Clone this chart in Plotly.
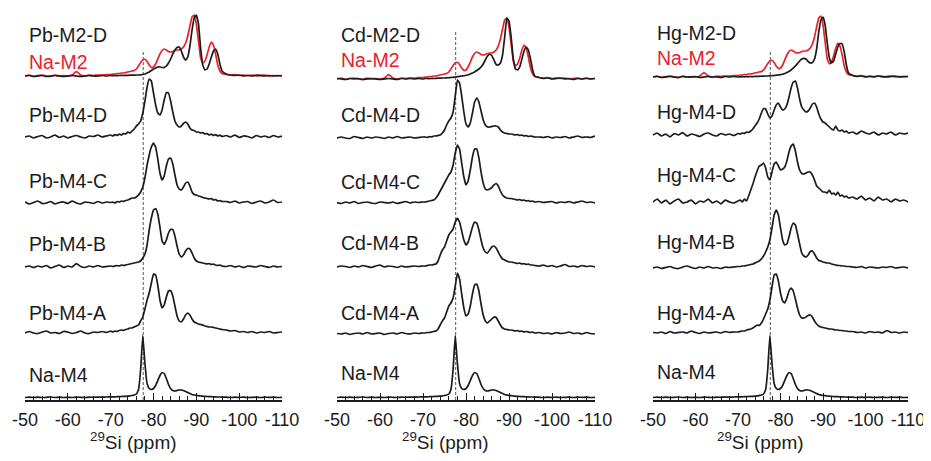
import plotly.graph_objects as go

# ---------------- data ----------------
# chemical shift grid (ppm)
PPM = [-50, -51, -52, -53, -54, -55, -56, -57, -58, -59, -60, -61, -62, -63, -64, -65, -66, -67, -68, -69, -70,
       -70.5, -71, -71.5, -72, -72.5, -73, -73.5, -74, -74.5, -75,
       -75.5, -76, -76.5, -77, -77.5, -78, -78.5, -79, -79.5, -80,
       -80.5, -81, -81.5, -82, -82.5, -83, -83.5, -84, -84.5, -85,
       -85.5, -86, -86.5, -87, -87.5, -88, -88.5, -89, -89.5, -90,
       -90.5, -91, -91.5, -92, -92.5, -93, -93.5, -94, -94.5, -95,
       -95.5, -96,
       -97, -98, -99, -100, -101, -102, -103, -104, -105, -106, -107, -108, -109, -110]

NA_M4 = [0, 0.3, 0, 0.4, 0, 0.2, 0.5, 0, 0.3, 0, 0.2, 0, 0.4, 0.2, 0, 0.3, 0.2, 0.4, 0.3, 0.5, 0.6,
         0.6, 0.7, 0.8, 0.9, 1, 1.1, 1.2, 1.4, 1.6, 2,
         2.5, 3.5, 8, 28, 62, 34, 14, 9, 8, 9,
         12, 17, 22, 25, 24, 19, 13, 9, 7, 6.5,
         7, 7.5, 7.5, 7, 6, 5, 4, 3, 2.5, 2,
         1.8, 1.5, 1.3, 1.1, 1, 0.9, 0.8, 0.7, 0.6, 0.5,
         0.5, 0.4,
         0.3, 0, 0.3, 0.1, 0.4, 0, 0.2, 0.3, 0, 0.4, 0.1, 0.3, 0, 0.2]

NA_M2 = [0, 1, -0.5, 0.5, 1, 0, -0.5, 1, 0, 0.5, 0, 1, 4.5, 1, 0, 1, 0.5, 1, 1, 1.5, 1.5,
         2, 2, 2.5, 2.5, 3, 3, 3.5, 4, 4.5, 5,
         5.5, 7, 10, 13.5, 16, 16.7, 14.5, 11, 8.5, 9,
         12, 17, 22, 25.5, 27, 26, 24.5, 24, 24.5, 25.5,
         26, 26, 27, 29, 33, 40, 50, 59, 61, 52,
         35, 18, 13, 15, 21, 29, 34, 31, 22, 11,
         5, 2.5,
         1.5, 1, 1.5, 0.5, 1, 0.5, 1, 0, 0.5, 1, 0, 0.5, 0, 0.5]

PB_M2_D = [0, 0.5, -0.5, 0, 0.5, -0.5, 0, 0.5, 0, -0.5, 0, 0.5, 0, -0.5, 0, 0.5, 0, 0, 0.5, 0, 0.5,
           0.3, 0.5, 0.4, 0.5, 0.6, 0.5, 0.6, 0.7, 0.8, 0.8,
           0.9, 1, 1, 1.2, 1.5, 2, 3, 4, 5.5, 7,
           8, 9, 9, 8.5, 8.5, 10, 13, 17, 22, 26,
           28.5, 29, 25, 19, 16, 19, 30, 46, 58, 61,
           52, 28, 11, 6, 7, 12, 19, 25, 27, 22,
           12, 5,
           2, 1, 0.5, 1, 0, 0.5, 0, 1, 0.5, 0, 0.5, 0, 0.5, 0]

PB_M4_D = [0, 1, -1, 0.5, 1.5, -1, 0, 2, -0.5, 1, -1, 0.5, 1.5, 0, -1, 1, 0.5, 2, 0, 1, 2,
           1, 2.5, 1.5, 3, 2, 3.5, 3, 5, 4, 6,
           8, 11, 13, 16, 24, 36, 50, 58, 56, 44,
           32, 24, 22, 27, 37, 44.5, 44, 36, 25, 16,
           12, 10, 11, 13.5, 15, 13, 9, 7, 6.5, 5,
           5, 4, 4.5, 3, 3.5, 2, 3, 1.5, 2.5, 1,
           2, 0.5,
           1.5, 0, 2, -0.5, 1, 0.5, -1, 1.5, 0, 1, -0.5, 1.5, 0, 1]

PB_M4_C = [1, -1, 0.5, 2, -0.5, 0, 1.5, -1, 0.5, 1, -0.5, 2, 0, -1, 1, 0.5, -0.5, 1.5, 0, 1, 0.5,
           1, 0, 1.5, 1, 2, 1.5, 2.5, 3, 4, 5,
           5, 6, 8, 11, 16, 25, 38, 48, 56, 60,
           56, 44, 30, 23, 27, 37, 44, 45, 39, 28,
           18, 14, 13, 16, 20, 21, 17, 11, 8.5, 8,
           7, 6.5, 5.5, 5, 4.5, 4, 4.5, 3, 3.5, 2,
           2.5, 1.5,
           1.5, 0.5, 2, 0, 1, 1.5, -0.5, 1, 2, 0, 1, 3, 0.5, 1]

PB_M4_B = [0, 1, -0.5, 1, 0, 1.5, -1, 0.5, 2, -0.5, 1, 0, 3.5, 0.5, -0.5, 1, 0, 1.5, 0, 0.5, 1,
           0.5, 1, 1.5, 1, 2, 1.5, 2, 2.5, 3, 3.5,
           4, 4.5, 5, 6, 9, 13, 22, 37, 49, 57,
           58.5, 53, 40, 26, 22.5, 27, 34, 37.5, 37.5, 31,
           21, 13, 10, 12, 16, 18.5, 18, 14, 9, 6,
           5, 4.5, 4, 3.5, 3, 3.5, 2.5, 3, 2, 1.5,
           2, 1,
           0.5, 1.5, 0, 1, -0.5, 1, 0.5, 0, 1.5, 0.5, -0.5, 1, 0, 0.5]

PB_M4_A = [0, 1.5, 0, -0.5, 1, 2, 0, 0.5, -0.5, 1.5, 1, -0.5, 0.5, 2, 0, -0.5, 1, 0.5, 1.5, 0.5, 2,
           1, 2, 1.5, 2.5, 3, 2.5, 3.5, 4, 5, 5,
           6, 7, 8, 12, 16, 24, 33, 40, 50, 59,
           58, 48, 33, 25, 28, 36, 42, 42.5, 37, 27,
           17, 12, 11, 14, 18, 20, 18, 14, 11, 10,
           9, 8.5, 8, 7, 6.5, 6, 6, 5.5, 5, 4.5,
           4, 3.5,
           3, 2, 2.5, 1, 1.5, 0.5, 1.5, 0, 1, 0.5, 1.5, 0, 0.5, 1]

CD_M2_D = [0.5, 0, -0.5, 0.5, 0, 0.5, -0.5, 0, 0.5, 0, -0.5, 0, 0.5, 0, -0.5, 0.5, 0, 0.5, 0, 0.5, 0,
           0.5, 0.5, 0.3, 0.6, 0.5, 0.7, 0.8, 0.8, 1, 1,
           1.2, 1.3, 1.5, 1.7, 2, 2.3, 2.6, 3, 3.3, 3.7,
           4.2, 5, 6, 7, 8.5, 10, 12, 15, 19, 23,
           24.5, 23.5, 19, 14.5, 14, 16, 24, 42, 61, 58,
           42, 20, 10, 9, 12, 20, 28, 32, 29, 20,
           9, 3,
           1.5, 0.5, 1, 0, 0.5, 1, 0, 0.5, -0.5, 0.5, 0, 1, 0, 0.5]

CD_M4_D = [0, 1, 0, -0.5, 1.5, 0.5, -0.5, 1, 0, 1, 0.5, -0.5, 1, 0, 1.5, 0, 0.5, 1, 0, 0.5, 1,
           1, 0.5, 1.5, 1, 2, 2, 2.5, 3, 5, 8,
           13, 17, 20, 26, 42, 58, 55, 42, 26, 14,
           11, 15, 25, 36, 40, 36, 27, 18, 13, 11,
           11, 11.5, 12, 12, 11, 8, 6, 5, 4.5, 4,
           4, 3.5, 3, 3.5, 2.5, 3, 2, 2.5, 1.5, 2,
           1.5, 1,
           1, 0.5, 1.5, 0, 1, 0.5, 1.5, 0, 1, 2, 0.5, 1, 0.5, 2]

CD_M4_C = [0.5, -0.5, 1, 0, 1.5, -0.5, 0.5, 1, 0, -0.5, 1, 0.5, 0, 1, -0.5, 0.5, 1.5, 0, 1, 0.5, 1,
           1, 1.5, 2, 2.5, 3, 5, 8, 12, 16, 20,
           24, 28, 31, 38, 50, 58, 54, 40, 26, 18,
           22, 33, 46, 54, 54, 45, 31, 20, 14, 13,
           14, 15.5, 18, 19.5, 17, 12, 8, 6, 5, 4.5,
           4.5, 4, 3.5, 3, 3.5, 2.5, 3, 2, 2.5, 1.5,
           2, 1,
           1.5, 0.5, 1, 1.5, 0, 1, 0.5, 1.5, 0, 1, 2, 0.5, 1, 0]

CD_M4_B = [0, 1, 0.5, -0.5, 1, 0, 1.5, 0.5, -0.5, 1, 2, 0, 1, 0.5, -0.5, 1, 0, 0.5, 1, 0.5, 1,
           1, 1.5, 2, 2, 2.5, 3, 6, 12, 17, 20,
           26, 32, 35, 38, 45, 48.7, 45, 36, 27, 22,
           25, 32, 40, 45, 44, 37, 27, 19, 15, 14,
           17, 20, 21, 19, 15, 11, 8, 7, 6, 5,
           5, 4.5, 4, 3.5, 4, 3, 3.5, 2.5, 3, 2,
           2, 1.5,
           1, 2, 0.5, 1.5, 0, 1, 2.5, 0.5, 1, 0, 1.5, 0.5, 1, 0]

CD_M4_A = [0.5, 0, 1, -0.5, 0.5, 1, 0, 1.5, 0, 0.5, 1, -0.5, 0.5, 1, 0, 1.5, 0.5, 0, 1, 0.5, 1,
           1, 1.5, 1.5, 2, 2.5, 3, 5, 9, 13, 16,
           22, 28, 31, 36, 48, 61, 55, 40, 26, 18,
           20, 28, 40, 49, 50, 43, 30, 19, 13, 11,
           13, 15, 17, 16.5, 13, 9, 6, 5, 4.5, 4,
           4, 3.5, 3, 3.5, 2.5, 3, 2, 2.5, 2, 1.5,
           2, 1,
           1.5, 0.5, 1, 0, 1.5, 0.5, 1, 2, 0.5, 1, 0, 1.5, 0.5, 0]

HG_M2_D = [0, 0.5, -0.5, 0, 0.5, 0, -0.5, 0.5, 0, 0, 0.5, -0.5, 0, 0.5, 0, 0, -0.5, 0.5, 0, 0.5, 0,
           0.2, 0.3, 0.2, 0.4, 0.3, 0.5, 0.4, 0.6, 0.6, 0.7,
           0.8, 0.9, 1, 1, 1.2, 1.3, 1.5, 1.8, 2, 2.3,
           2.8, 3.5, 4.5, 5.5, 7, 9, 11, 13.5, 16, 18,
           18.7, 18, 15.5, 14, 14.5, 18, 28, 45, 57, 60,
           52, 34, 19, 14, 16, 23, 30, 33.5, 33, 25,
           12, 4,
           1.5, 0.5, 1, 0, 0.5, 0, 1, 0.5, 0, 0.5, 1, 0, 0.5, 0.5]

HG_M4_D = [0, 2, -1, 1, -2, 1.5, 0, 2.5, -1, 1, 0, -1.5, 1, 2, 0, -1, 1.5, 0, 1, -0.5, 1.5,
           1, 2, 1.5, 3, 2.5, 4, 6, 9, 12, 16,
           22, 26.5, 26, 21, 17, 19, 25, 30, 32, 28,
           25, 26, 30, 38, 47, 53, 54, 47, 36, 28,
           25, 23, 24, 27, 31, 32, 28, 21, 16, 13,
           12, 10, 8, 6, 5, 9, 5, 4, 5, 3,
           4, 2,
           3, 1, 4, 2, 1, 3, 0, 2, 1, 3, 0, 2, 1, 2]

HG_M4_C = [0, 3, -1, 2, -2, 1, 3, -1, 0, 2, -2, 1, 0, 3, -1, 1, -2, 2, 0, -1, 1,
           2, 0, 3, 1, 6, 12, 18, 25, 31, 36,
           37, 39, 34, 25, 22, 30, 38, 40, 36, 32,
           33, 35, 41, 50, 56, 58, 51, 40, 32, 28.5,
           28, 29, 30, 30, 27, 22, 16, 14, 12, 10,
           10, 9, 12, 8, 9, 7, 10, 6, 7, 5,
           6, 4,
           5, 3, 6, 2, 4, 1, 5, 2, 3, 0, 3, 1, 2, 0]

HG_M4_B = [0, 1, -0.5, 0.5, 1.5, 0, -0.5, 1, 2, 0.5, -0.5, 1, 0, 1.5, 0, 0.5, -0.5, 1, 0.5, 1, 1.5,
           1.5, 2, 2, 2.5, 3, 3.5, 4, 5, 6, 7,
           9, 12, 16, 21, 28, 40, 53, 58, 53, 40,
           28, 23, 24, 31, 40, 45, 43, 34, 24, 15,
           12, 11, 13, 16.5, 17, 14, 10, 7.5, 7, 6,
           5.5, 5, 5, 4, 3.5, 3, 2.5, 2.5, 2, 2,
           1.5, 1.5,
           1, 0.5, 1.5, 0, 1, 0.5, 0, 1, 0.5, 1.5, 0, 0.5, 1, 0]

HG_M4_A = [0.5, 0, 1, -0.5, 1.5, 0, 0.5, 1, 0, 2, 0.5, -0.5, 1, 0, 0.5, 1, 0, 1.5, 0.5, 1, 1,
           1.5, 2, 2, 3, 3.5, 4, 5, 6.5, 8, 7.5,
           10, 14, 19, 24, 33, 46, 58, 59, 52, 40,
           32, 30, 35, 42, 45, 42, 34, 25, 18, 15,
           15, 16, 17.5, 18, 16, 12, 9, 7, 6, 5.5,
           5, 4.5, 4, 4, 3.5, 3, 3, 2.5, 2.5, 2,
           2, 1.5,
           1.5, 0.5, 1, 0, 1.5, 0.5, 1, 0, 2.5, 0.5, 1, 0, 1, 0.5]

# sample labels (bottom -> top), and the red reference label
LABELS = [
    ["Na-M4", "Pb-M4-A", "Pb-M4-B", "Pb-M4-C", "Pb-M4-D", "Pb-M2-D"],
    ["Na-M4", "Cd-M4-A", "Cd-M4-B", "Cd-M4-C", "Cd-M4-D", "Cd-M2-D"],
    ["Na-M4", "Hg-M4-A", "Hg-M4-B", "Hg-M4-C", "Hg-M4-D", "Hg-M2-D"],
]
SPECTRA = [
    [NA_M4, PB_M4_A, PB_M4_B, PB_M4_C, PB_M4_D, PB_M2_D],
    [NA_M4, CD_M4_A, CD_M4_B, CD_M4_C, CD_M4_D, CD_M2_D],
    [NA_M4, HG_M4_A, HG_M4_B, HG_M4_C, HG_M4_D, HG_M2_D],
]
REF_LABEL = "Na-M2"
REF_SPECTRUM = NA_M2

TICK_VALUES = [-50, -60, -70, -80, -90, -100, -110]
TICK_LABELS = ["-50", "-60", "-70", "-80", "-90", "-100", "-110"]
AXIS_TITLE = "<sup>29</sup>Si (ppm)"
REF_SHIFT = -77.6

for arr in [NA_M4, NA_M2] + [s for p in SPECTRA for s in p]:
    assert len(arr) == len(PPM), len(arr)

# ---------------- layout / style ----------------
# the page body adds an 8 px margin, so the figure is sized to fit the 931x461 window
BODY = 8
W, H = 931 - BODY, 461 - BODY
ML, MR, MT, MB = 25 - BODY, 23, 0, 61
PW = W - ML - MR
PH = H - MT - MB
DOMAINS = [[0, 257 / PW], [(337 - 25) / PW, (595 - 25) / PW], [(653 - 25) / PW, 1.0]]
OFFSETS = [[2.5, 67, 133, 197, 263, 324],
           [2.5, 66, 133, 197, 262, 321],
           [2.5, 67, 132, 198, 265, 323]]
LABEL_Y = [[25, 87, 156, 219, 285, 365],
           [27, 87, 157, 218, 285, 365],
           [28, 87, 158, 225, 288, 367]]
REF_LABEL_Y = [338, 340, 342]
DASH_TOP = [350, 368, 350]
TITLE_X = -75.3          # axis title sits left of the panel centre
TITLE_Y = -41 / PH       # paper units below the axis line

FONT = "Liberation Sans, Arial, sans-serif"
BLACK = "#1b1b1b"
RED = "#e8212b"

fig = go.Figure()
layout = dict(
    template="none",
    width=W, height=H,
    margin=dict(l=ML, r=MR, t=MT, b=MB, autoexpand=False),
    paper_bgcolor="white", plot_bgcolor="white",
    showlegend=False,
    font=dict(family=FONT, color="black"),
    annotations=[], shapes=[],
)

for i in range(3):
    xa = "x" if i == 0 else f"x{i+1}"
    ya = "y" if i == 0 else f"y{i+1}"
    # red reference under the top black spectrum
    fig.add_trace(go.Scatter(
        x=PPM, y=[OFFSETS[i][5] + v for v in REF_SPECTRUM],
        mode="lines", line=dict(color=RED, width=1.7, shape="spline", smoothing=0.3),
        xaxis=xa, yaxis=ya, hoverinfo="skip"))
    for k, spec in enumerate(SPECTRA[i]):
        fig.add_trace(go.Scatter(
            x=PPM, y=[OFFSETS[i][k] + v for v in spec],
            mode="lines", line=dict(color=BLACK, width=1.7, shape="spline", smoothing=0.3),
            xaxis=xa, yaxis=ya, hoverinfo="skip"))
        layout["annotations"].append(dict(
            x=-50.4, y=LABEL_Y[i][k], xref=xa, yref=ya, text=LABELS[i][k],
            showarrow=False, xanchor="left", yanchor="middle",
            font=dict(family=FONT, size=19.5, color=BLACK)))
    layout["annotations"].append(dict(
        x=-50.4, y=REF_LABEL_Y[i], xref=xa, yref=ya, text=REF_LABEL,
        showarrow=False, xanchor="left", yanchor="middle",
        font=dict(family=FONT, size=19.5, color=RED)))
    layout["annotations"].append(dict(
        x=TITLE_X, y=TITLE_Y, xref=xa, yref="paper", text=AXIS_TITLE,
        showarrow=False, xanchor="center", yanchor="middle",
        font=dict(family=FONT, size=19, color=BLACK)))
    layout["shapes"].append(dict(
        type="line", xref=xa, yref=ya, x0=REF_SHIFT, x1=REF_SHIFT, y0=0, y1=DASH_TOP[i],
        line=dict(color="#555555", width=1, dash="3px,2px"), layer="below"))

    key = "xaxis" if i == 0 else f"xaxis{i+1}"
    ykey = "yaxis" if i == 0 else f"yaxis{i+1}"
    layout[key] = dict(
        domain=DOMAINS[i], range=[-50, -110], anchor=ya, automargin=False,
        showgrid=False, zeroline=False,
        showline=True, linecolor=BLACK, linewidth=1.5,
        tickmode="array", tickvals=TICK_VALUES, ticktext=TICK_LABELS,
        ticks="inside", ticklen=7, tickwidth=1.2, tickcolor=BLACK,
        minor=dict(ticks="inside", ticklen=4, tickwidth=1, tickcolor=BLACK,
                   tickmode="linear", tick0=-50, dtick=2, showgrid=False),
        tickfont=dict(family=FONT, size=18, color=BLACK),
        ticklabelstandoff=3,
    )
    layout[ykey] = dict(domain=[0, 1], range=[0, PH], visible=False, anchor=xa,
                        fixedrange=True, automargin=False)

fig.update_layout(**layout)
fig.write_html("out.html")
